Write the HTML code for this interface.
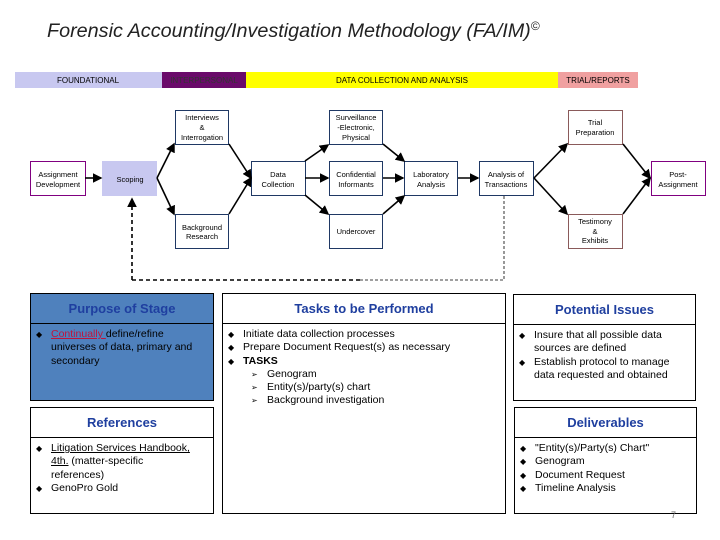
<!DOCTYPE html>
<html><head><meta charset="utf-8"><style>
body{margin:0;width:720px;height:540px;background:#fff;overflow:hidden;font-family:"Liberation Sans",sans-serif}
.box{position:absolute;border:1px solid #000;background:#fff;box-sizing:border-box}
.hd{height:29px;border-bottom:1px solid #000;color:#1f3f9f;font-weight:bold;font-size:13px;text-align:center;line-height:29px}
ul{margin:4px 0 0 0;padding:0 18px 0 20px;font-size:10.5px;line-height:13.3px;list-style:none}
li{position:relative}
li:before{content:"◆";position:absolute;left:-15px;font-size:8px}
li.s{padding-left:24px}
li.s:before{content:"➢";left:8px;font-size:8px}
</style></head><body>
<svg width="720" height="290" style="position:absolute;left:0;top:0" font-family="Liberation Sans, sans-serif">
<defs><marker id="a" markerWidth="6" markerHeight="6" refX="5" refY="3" orient="auto"><path d="M0,0L6,3L0,6z" fill="#000"/></marker></defs>
<text x="47" y="37" font-size="19.8" font-style="italic" fill="#222">Forensic Accounting/Investigation Methodology (FA/IM)<tspan font-size="12" dy="-7">©</tspan></text>
<rect x="15" y="72" width="147" height="16" fill="#c8c8f0"/>
<rect x="162" y="72" width="84" height="16" fill="#6a0a6a"/>
<rect x="246" y="72" width="312" height="16" fill="#ffff00"/>
<rect x="558" y="72" width="80" height="16" fill="#f0a0a0"/>
<g font-size="8" text-anchor="middle">
<text x="88" y="83">FOUNDATIONAL</text>
<text x="204" y="83" fill="#333">INTERPERSONAL</text>
<text x="402" y="83">DATA COLLECTION AND ANALYSIS</text>
<text x="598" y="83">TRIAL/REPORTS</text>
</g>
<g fill="#fff" stroke="#1f3864" stroke-width="1">
<rect x="175.5" y="110.5" width="53" height="34"/>
<rect x="329.5" y="110.5" width="53" height="34"/>
<rect x="251.5" y="161.5" width="54" height="34"/>
<rect x="329.5" y="161.5" width="53" height="34"/>
<rect x="404.5" y="161.5" width="53" height="34"/>
<rect x="479.5" y="161.5" width="54" height="34"/>
<rect x="175.5" y="214.5" width="53" height="34"/>
<rect x="329.5" y="214.5" width="53" height="34"/>
</g>
<g fill="#fff" stroke="#8a5a5a"><rect x="568.5" y="110.5" width="54" height="34"/><rect x="568.5" y="214.5" width="54" height="34"/></g>
<g fill="#fff" stroke="#800080"><rect x="30.5" y="161.5" width="55" height="34"/><rect x="651.5" y="161.5" width="54" height="34"/></g>
<rect x="102" y="161" width="55" height="35" fill="#c8c8f0"/>
<g font-size="7.5" text-anchor="middle" fill="#000">
<text x="202" y="120">Interviews</text><text x="202" y="130">&amp;</text><text x="202" y="140">Interrogation</text>
<text x="356" y="120">Surveillance</text><text x="356" y="130">-Electronic,</text><text x="356" y="140">Physical</text>
<text x="58" y="177">Assignment</text><text x="58" y="187">Development</text>
<text x="130" y="182">Scoping</text>
<text x="278" y="177">Data</text><text x="278" y="187">Collection</text>
<text x="356" y="177">Confidential</text><text x="356" y="187">Informants</text>
<text x="431" y="177">Laboratory</text><text x="431" y="187">Analysis</text>
<text x="506" y="177">Analysis of</text><text x="506" y="187">Transactions</text>
<text x="595" y="125">Trial</text><text x="595" y="135">Preparation</text>
<text x="678" y="177">Post-</text><text x="678" y="187">Assignment</text>
<text x="202" y="230">Background</text><text x="202" y="239">Research</text>
<text x="356" y="234">Undercover</text>
<text x="595" y="224">Testimony</text><text x="595" y="234">&amp;</text><text x="595" y="243">Exhibits</text>
</g>
<g stroke="#000" stroke-width="1.6" marker-end="url(#a)">
<line x1="85" y1="178" x2="101" y2="178"/>
<line x1="157" y1="178" x2="174" y2="144"/>
<line x1="157" y1="178" x2="174" y2="214"/>
<line x1="229" y1="144" x2="251" y2="178"/>
<line x1="229" y1="214" x2="251" y2="178"/>
<line x1="305" y1="161" x2="328" y2="145"/>
<line x1="305" y1="178" x2="328" y2="178"/>
<line x1="305" y1="195" x2="328" y2="214"/>
<line x1="383" y1="144" x2="404" y2="161"/>
<line x1="383" y1="178" x2="403" y2="178"/>
<line x1="383" y1="214" x2="404" y2="196"/>
<line x1="458" y1="178" x2="478" y2="178"/>
<line x1="534" y1="178" x2="567" y2="144"/>
<line x1="534" y1="178" x2="567" y2="214"/>
<line x1="623" y1="144" x2="650" y2="178"/>
<line x1="623" y1="214" x2="650" y2="178"/>
</g>
<path d="M132,280V199" stroke="#000" stroke-width="1.6" stroke-dasharray="4,3" fill="none" marker-end="url(#a)"/>
<path d="M132,280H360" stroke="#000" stroke-width="1.6" stroke-dasharray="4,3" fill="none"/>
<path d="M360,280H504V196" stroke="#000" stroke-width="0.8" stroke-dasharray="3,2" fill="none"/>
</svg>

<div class="box" style="left:30px;top:293px;width:184px;height:108px;background:#4f81bd">
<div class="hd" style="color:#1f3fa0">Purpose of Stage</div>
<ul style="padding-right:12px"><li><span style="color:#c0143c;text-decoration:underline">Continually </span>define/refine universes of data, primary and secondary</li></ul>
</div>
<div class="box" style="left:30px;top:407px;width:184px;height:107px">
<div class="hd">References</div>
<ul style="padding-right:14px"><li><u>Litigation Services Handbook, 4th.</u> (matter-specific references)</li><li>GenoPro Gold</li></ul>
</div>
<div class="box" style="left:222px;top:293px;width:284px;height:221px">
<div class="hd">Tasks to be Performed</div>
<ul><li>Initiate data collection processes</li><li>Prepare Document Request(s) as necessary</li><li><b>TASKS</b></li><li class="s">Genogram</li><li class="s">Entity(s)/party(s) chart</li><li class="s">Background investigation</li></ul>
</div>
<div class="box" style="left:513px;top:294px;width:183px;height:107px">
<div class="hd">Potential Issues</div>
<ul style="padding-right:22px"><li>Insure that all possible data sources are defined</li><li>Establish protocol to manage data requested and obtained</li></ul>
</div>
<div class="box" style="left:514px;top:407px;width:183px;height:107px">
<div class="hd">Deliverables</div>
<ul><li>"Entity(s)/Party(s) Chart"</li><li>Genogram</li><li>Document Request</li><li>Timeline Analysis</li></ul>
</div>
<div style="position:absolute;left:671px;top:510px;font-size:9px;color:#666">7</div>
</body></html>
